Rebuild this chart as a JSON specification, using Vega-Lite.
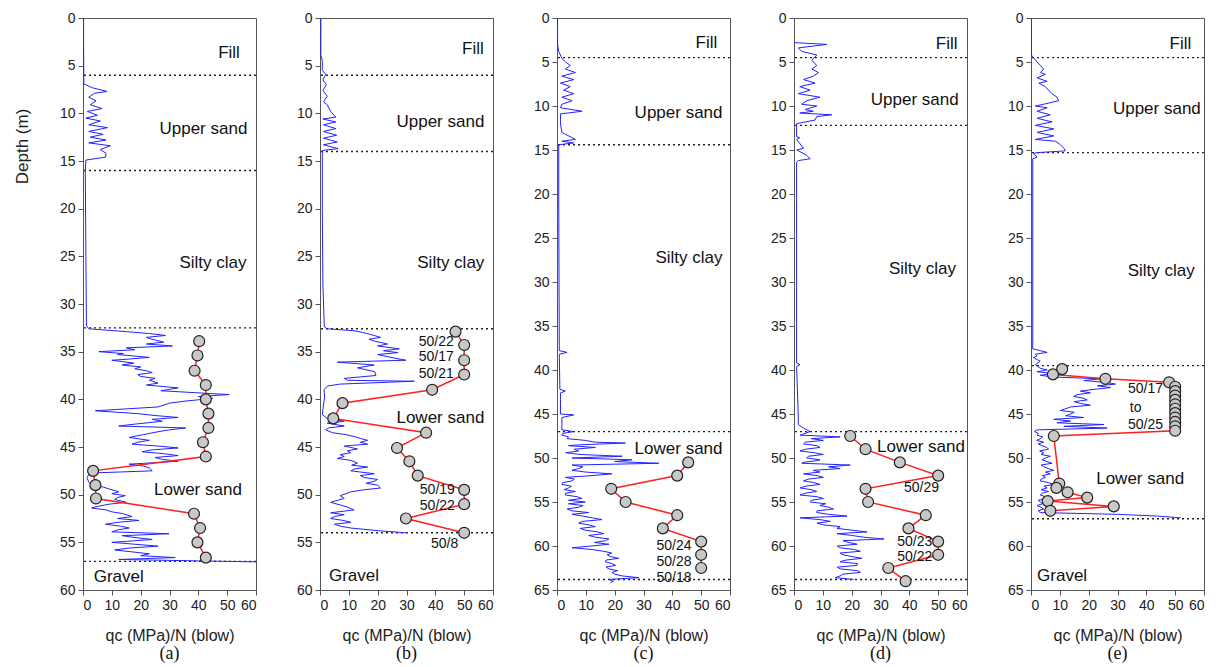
{
"$schema": "https://vega.github.io/schema/vega-lite/v6.json",
"padding": {"left": 12, "top": 10, "right": 5, "bottom": 2},
"background": "white",
"bounds": "flush",
"spacing": 64,
"config": {
  "font": "Liberation Sans",
  "view": {"stroke": "#555", "strokeWidth": 1},
  "axis": {"grid": false, "domainColor": "#555", "tickColor": "#555", "labelColor": "#222", "titleColor": "#222", "labelFontSize": 14, "titleFontSize": 16, "titleFontWeight": "normal", "tickSize": 5, "labelPadding": 3},
  "axisX": {"tickCount": 7, "titlePadding": 15},
  "axisY": {"tickCount": 13}
},
"datasets": {
"bounds": [
 {"panel":"a","depth":6},{"panel":"a","depth":16},{"panel":"a","depth":32.5},{"panel":"a","depth":57},
 {"panel":"b","depth":6},{"panel":"b","depth":14},{"panel":"b","depth":32.6},{"panel":"b","depth":54},
 {"panel":"c","depth":4.5},{"panel":"c","depth":14.4},{"panel":"c","depth":47},{"panel":"c","depth":63.8},
 {"panel":"d","depth":4.5},{"panel":"d","depth":12.2},{"panel":"d","depth":47},{"panel":"d","depth":63.8},
 {"panel":"e","depth":4.5},{"panel":"e","depth":15.3},{"panel":"e","depth":39.5},{"panel":"e","depth":56.9}
],
"labels": [
 {"panel":"a","kind":"layer","depth":3.7,"x":54.4,"text":"Fill"},
 {"panel":"a","kind":"layer","depth":11.6,"x":57,"text":"Upper sand"},
 {"panel":"a","kind":"layer","depth":25.7,"x":56.7,"text":"Silty clay"},
 {"panel":"a","kind":"layer","depth":49.5,"x":55.1,"text":"Lower sand"},
 {"panel":"a","kind":"base","depth":58.6,"x":3.7,"text":"Gravel"},
 {"panel":"b","kind":"layer","depth":3.2,"x":56.8,"text":"Fill"},
 {"panel":"b","kind":"layer","depth":10.9,"x":57,"text":"Upper sand"},
 {"panel":"b","kind":"layer","depth":25.7,"x":57,"text":"Silty clay"},
 {"panel":"b","kind":"layer","depth":42.0,"x":57,"text":"Lower sand"},
 {"panel":"b","kind":"base","depth":58.5,"x":3.1,"text":"Gravel"},
 {"panel":"b","kind":"blow","depth":34.0,"x":40.3,"text":"50/22"},
 {"panel":"b","kind":"blow","depth":35.6,"x":40.3,"text":"50/17"},
 {"panel":"b","kind":"blow","depth":37.3,"x":40.3,"text":"50/21"},
 {"panel":"b","kind":"blow","depth":49.5,"x":40.7,"text":"50/19"},
 {"panel":"b","kind":"blow","depth":51.2,"x":40.7,"text":"50/22"},
 {"panel":"b","kind":"blow","depth":55.2,"x":43.2,"text":"50/8"},
 {"panel":"c","kind":"layer","depth":2.8,"x":55.6,"text":"Fill"},
 {"panel":"c","kind":"layer","depth":10.8,"x":57.4,"text":"Upper sand"},
 {"panel":"c","kind":"layer","depth":27.3,"x":57.4,"text":"Silty clay"},
 {"panel":"c","kind":"layer","depth":49.0,"x":57.4,"text":"Lower sand"},
 {"panel":"c","kind":"blow","depth":60.0,"x":40.6,"text":"50/24"},
 {"panel":"c","kind":"blow","depth":61.8,"x":40.6,"text":"50/28"},
 {"panel":"c","kind":"blow","depth":63.6,"x":40.6,"text":"50/18"},
 {"panel":"d","kind":"layer","depth":2.9,"x":56.7,"text":"Fill"},
 {"panel":"d","kind":"layer","depth":9.3,"x":57.1,"text":"Upper sand"},
 {"panel":"d","kind":"layer","depth":28.5,"x":56.2,"text":"Silty clay"},
 {"panel":"d","kind":"layer","depth":48.7,"x":59.3,"text":"Lower sand"},
 {"panel":"d","kind":"blow","depth":53.4,"x":44.2,"text":"50/29"},
 {"panel":"d","kind":"blow","depth":59.5,"x":41.9,"text":"50/23"},
 {"panel":"d","kind":"blow","depth":61.3,"x":41.9,"text":"50/22"},
 {"panel":"e","kind":"layer","depth":3.0,"x":55.6,"text":"Fill"},
 {"panel":"e","kind":"layer","depth":10.3,"x":58.9,"text":"Upper sand"},
 {"panel":"e","kind":"layer","depth":28.8,"x":56.8,"text":"Silty clay"},
 {"panel":"e","kind":"layer","depth":52.4,"x":53.1,"text":"Lower sand"},
 {"panel":"e","kind":"base","depth":63.4,"x":2.1,"text":"Gravel"},
 {"panel":"e","kind":"blow","depth":42.2,"x":39.7,"text":"50/17"},
 {"panel":"e","kind":"blow","depth":44.3,"x":36.3,"text":"to"},
 {"panel":"e","kind":"blow","depth":46.2,"x":39.7,"text":"50/25"}
],
"spt": [
 {"panel":"a","depth":33.9,"n":40.3},{"panel":"a","depth":35.4,"n":39.7},{"panel":"a","depth":37.0,"n":38.7},{"panel":"a","depth":38.5,"n":42.6},{"panel":"a","depth":40.0,"n":42.6},{"panel":"a","depth":41.5,"n":43.5},{"panel":"a","depth":43.0,"n":43.5},{"panel":"a","depth":44.5,"n":41.6},{"panel":"a","depth":46.0,"n":42.6},{"panel":"a","depth":47.5,"n":3.5},{"panel":"a","depth":49.0,"n":4.3},{"panel":"a","depth":50.4,"n":4.5},{"panel":"a","depth":52.0,"n":38.5},{"panel":"a","depth":53.5,"n":40.6},{"panel":"a","depth":55.0,"n":39.7},{"panel":"a","depth":56.6,"n":42.6},
 {"panel":"b","depth":32.9,"n":47},{"panel":"b","depth":34.3,"n":50},{"panel":"b","depth":35.9,"n":50},{"panel":"b","depth":37.4,"n":50},{"panel":"b","depth":39.0,"n":38.9},{"panel":"b","depth":40.4,"n":7.8},{"panel":"b","depth":42.0,"n":4.6},{"panel":"b","depth":43.5,"n":36.8},{"panel":"b","depth":45.1,"n":26.7},{"panel":"b","depth":46.5,"n":31},{"panel":"b","depth":48.0,"n":33.9},{"panel":"b","depth":49.5,"n":50},{"panel":"b","depth":51.0,"n":50},{"panel":"b","depth":52.5,"n":29.8},{"panel":"b","depth":54.0,"n":50},
 {"panel":"c","depth":50.5,"n":45.5},{"panel":"c","depth":52.0,"n":41.7},{"panel":"c","depth":53.5,"n":18.8},{"panel":"c","depth":55.0,"n":23.8},{"panel":"c","depth":56.5,"n":41.7},{"panel":"c","depth":58.0,"n":36.7},{"panel":"c","depth":59.5,"n":50},{"panel":"c","depth":61.0,"n":50},{"panel":"c","depth":62.5,"n":50},
 {"panel":"d","depth":47.5,"n":19.5},{"panel":"d","depth":49.0,"n":24.8},{"panel":"d","depth":50.5,"n":36.7},{"panel":"d","depth":52.0,"n":50},{"panel":"d","depth":53.5,"n":24.8},{"panel":"d","depth":55.0,"n":25.7},{"panel":"d","depth":56.5,"n":45.7},{"panel":"d","depth":58.0,"n":39.7},{"panel":"d","depth":59.5,"n":50},{"panel":"d","depth":61.0,"n":50},{"panel":"d","depth":62.5,"n":32.7},{"panel":"d","depth":64.0,"n":38.7},
 {"panel":"e","depth":39.9,"n":10.8},{"panel":"e","depth":40.5,"n":7.6},{"panel":"e","depth":41.0,"n":25.8},{"panel":"e","depth":41.4,"n":47.9},{"panel":"e","depth":41.9,"n":50},{"panel":"e","depth":42.4,"n":50},{"panel":"e","depth":42.9,"n":50},{"panel":"e","depth":43.4,"n":50},{"panel":"e","depth":43.9,"n":50},{"panel":"e","depth":44.4,"n":50},{"panel":"e","depth":44.9,"n":50},{"panel":"e","depth":45.4,"n":50},{"panel":"e","depth":45.9,"n":50},{"panel":"e","depth":46.4,"n":50},{"panel":"e","depth":46.9,"n":50},{"panel":"e","depth":47.5,"n":7.9},{"panel":"e","depth":52.9,"n":9.8},{"panel":"e","depth":53.4,"n":8.8},{"panel":"e","depth":53.9,"n":12.7},{"panel":"e","depth":54.5,"n":19.5},{"panel":"e","depth":54.9,"n":5.8},{"panel":"e","depth":55.5,"n":28.7},{"panel":"e","depth":56.0,"n":6.7}
],
"cpt": [
 {"panel":"a","depth":0,"qc":0.2},{"panel":"a","depth":2.8,"qc":0.2},{"panel":"a","depth":6.9,"qc":0.3},{"panel":"a","depth":7.0,"qc":1.0},{"panel":"a","depth":7.3,"qc":3.0},{"panel":"a","depth":7.7,"qc":8.3},{"panel":"a","depth":7.9,"qc":4.0},{"panel":"a","depth":8.3,"qc":2.0},{"panel":"a","depth":8.7,"qc":4.5},{"panel":"a","depth":9.1,"qc":2.5},{"panel":"a","depth":9.5,"qc":6.6},{"panel":"a","depth":9.8,"qc":1.5},{"panel":"a","depth":10.2,"qc":5.0},{"panel":"a","depth":10.5,"qc":1.0},{"panel":"a","depth":10.8,"qc":6.0},{"panel":"a","depth":11.2,"qc":2.0},{"panel":"a","depth":11.5,"qc":8.5},{"panel":"a","depth":11.9,"qc":2.0},{"panel":"a","depth":12.2,"qc":7.0},{"panel":"a","depth":12.5,"qc":2.5},{"panel":"a","depth":12.8,"qc":8.0},{"panel":"a","depth":13.1,"qc":2.0},{"panel":"a","depth":13.4,"qc":9.5},{"panel":"a","depth":13.8,"qc":6.0},{"panel":"a","depth":14.2,"qc":8.0},{"panel":"a","depth":14.6,"qc":7.8},{"panel":"a","depth":14.9,"qc":1.0},{"panel":"a","depth":16.0,"qc":0.8},{"panel":"a","depth":25.0,"qc":1.0},{"panel":"a","depth":32.3,"qc":1.2},{"panel":"a","depth":32.6,"qc":2.0},{"panel":"a","depth":32.9,"qc":15},{"panel":"a","depth":33.1,"qc":23},{"panel":"a","depth":33.3,"qc":28.6},{"panel":"a","depth":33.5,"qc":22},{"panel":"a","depth":33.7,"qc":24},{"panel":"a","depth":34.0,"qc":28},{"panel":"a","depth":34.2,"qc":22},{"panel":"a","depth":34.4,"qc":31},{"panel":"a","depth":34.6,"qc":15},{"panel":"a","depth":34.8,"qc":18},{"panel":"a","depth":35.0,"qc":5.5},{"panel":"a","depth":35.2,"qc":14},{"panel":"a","depth":35.3,"qc":12},{"panel":"a","depth":35.6,"qc":23},{"panel":"a","depth":35.8,"qc":15},{"panel":"a","depth":35.9,"qc":10},{"panel":"a","depth":36.2,"qc":17.6},{"panel":"a","depth":36.4,"qc":13.6},{"panel":"a","depth":36.6,"qc":20},{"panel":"a","depth":36.8,"qc":18},{"panel":"a","depth":37.0,"qc":22},{"panel":"a","depth":37.2,"qc":24},{"panel":"a","depth":37.4,"qc":19},{"panel":"a","depth":37.6,"qc":20},{"panel":"a","depth":37.8,"qc":25},{"panel":"a","depth":38.0,"qc":23},{"panel":"a","depth":38.3,"qc":26},{"panel":"a","depth":38.5,"qc":22},{"panel":"a","depth":38.8,"qc":33},{"panel":"a","depth":39.1,"qc":27},{"panel":"a","depth":39.5,"qc":50.7},{"panel":"a","depth":39.7,"qc":40},{"panel":"a","depth":39.9,"qc":45},{"panel":"a","depth":40.2,"qc":35},{"panel":"a","depth":40.4,"qc":30},{"panel":"a","depth":40.8,"qc":26},{"panel":"a","depth":41.2,"qc":4.3},{"panel":"a","depth":41.5,"qc":19},{"panel":"a","depth":41.7,"qc":25},{"panel":"a","depth":41.9,"qc":33},{"panel":"a","depth":42.1,"qc":24},{"panel":"a","depth":42.3,"qc":27.5},{"panel":"a","depth":42.6,"qc":18},{"panel":"a","depth":42.8,"qc":12.4},{"panel":"a","depth":43.0,"qc":35.6},{"panel":"a","depth":43.2,"qc":30},{"panel":"a","depth":43.4,"qc":26},{"panel":"a","depth":43.7,"qc":21},{"panel":"a","depth":44.0,"qc":16},{"panel":"a","depth":44.3,"qc":23},{"panel":"a","depth":44.5,"qc":19},{"panel":"a","depth":44.7,"qc":17},{"panel":"a","depth":44.9,"qc":26},{"panel":"a","depth":45.1,"qc":33},{"panel":"a","depth":45.3,"qc":24},{"panel":"a","depth":45.5,"qc":20.5},{"panel":"a","depth":45.7,"qc":28},{"panel":"a","depth":45.9,"qc":33},{"panel":"a","depth":46.1,"qc":25},{"panel":"a","depth":46.3,"qc":27.5},{"panel":"a","depth":46.5,"qc":33},{"panel":"a","depth":46.8,"qc":16},{"panel":"a","depth":47.0,"qc":21},{"panel":"a","depth":47.2,"qc":23},{"panel":"a","depth":47.5,"qc":24},{"panel":"a","depth":47.7,"qc":5.5},{"panel":"a","depth":47.9,"qc":2},{"panel":"a","depth":48.2,"qc":1.4},{"panel":"a","depth":48.7,"qc":2},{"panel":"a","depth":49.0,"qc":3},{"panel":"a","depth":49.2,"qc":7},{"panel":"a","depth":49.4,"qc":9},{"panel":"a","depth":49.7,"qc":12.4},{"panel":"a","depth":49.9,"qc":10},{"panel":"a","depth":50.1,"qc":14.7},{"panel":"a","depth":50.3,"qc":12},{"panel":"a","depth":50.5,"qc":11},{"panel":"a","depth":50.8,"qc":15},{"panel":"a","depth":51.0,"qc":9},{"panel":"a","depth":51.2,"qc":5.5},{"panel":"a","depth":51.4,"qc":3},{"panel":"a","depth":51.6,"qc":8},{"panel":"a","depth":51.8,"qc":10},{"panel":"a","depth":52.0,"qc":14},{"panel":"a","depth":52.3,"qc":17},{"panel":"a","depth":52.5,"qc":12},{"panel":"a","depth":52.7,"qc":19.4},{"panel":"a","depth":52.9,"qc":12},{"panel":"a","depth":53.1,"qc":7.8},{"panel":"a","depth":53.3,"qc":13},{"panel":"a","depth":53.5,"qc":16},{"panel":"a","depth":53.7,"qc":12},{"panel":"a","depth":53.9,"qc":10},{"panel":"a","depth":54.1,"qc":29.8},{"panel":"a","depth":54.3,"qc":13.6},{"panel":"a","depth":54.5,"qc":18},{"panel":"a","depth":54.7,"qc":24},{"panel":"a","depth":54.9,"qc":15},{"panel":"a","depth":55.0,"qc":10},{"panel":"a","depth":55.2,"qc":18},{"panel":"a","depth":55.4,"qc":26},{"panel":"a","depth":55.6,"qc":16},{"panel":"a","depth":55.8,"qc":11},{"panel":"a","depth":56.0,"qc":17},{"panel":"a","depth":56.2,"qc":23},{"panel":"a","depth":56.4,"qc":20},{"panel":"a","depth":56.6,"qc":32},{"panel":"a","depth":56.8,"qc":12.4},{"panel":"a","depth":57.05,"qc":60},
 {"panel":"b","depth":0,"qc":0.3},{"panel":"b","depth":3.9,"qc":0.3},{"panel":"b","depth":4.5,"qc":0.8},{"panel":"b","depth":5.5,"qc":0.8},{"panel":"b","depth":5.9,"qc":2.0},{"panel":"b","depth":6.5,"qc":1.0},{"panel":"b","depth":7.0,"qc":2.2},{"panel":"b","depth":7.6,"qc":1.0},{"panel":"b","depth":8.2,"qc":2.5},{"panel":"b","depth":8.8,"qc":1.2},{"panel":"b","depth":9.1,"qc":2.5},{"panel":"b","depth":9.8,"qc":3.7},{"panel":"b","depth":10.4,"qc":5.5},{"panel":"b","depth":10.6,"qc":1.0},{"panel":"b","depth":10.9,"qc":5.5},{"panel":"b","depth":11.2,"qc":1.2},{"panel":"b","depth":11.6,"qc":5.5},{"panel":"b","depth":11.9,"qc":1.2},{"panel":"b","depth":12.3,"qc":5.8},{"panel":"b","depth":12.6,"qc":1.2},{"panel":"b","depth":13.0,"qc":6.0},{"panel":"b","depth":13.3,"qc":1.2},{"panel":"b","depth":13.7,"qc":6.3},{"panel":"b","depth":13.9,"qc":0.8},{"panel":"b","depth":20,"qc":0.8},{"panel":"b","depth":28,"qc":1.0},{"panel":"b","depth":32.4,"qc":1.5},{"panel":"b","depth":32.6,"qc":2.5},{"panel":"b","depth":32.8,"qc":11.8},{"panel":"b","depth":33.0,"qc":15},{"panel":"b","depth":33.2,"qc":17.6},{"panel":"b","depth":33.5,"qc":21},{"panel":"b","depth":33.7,"qc":17},{"panel":"b","depth":33.9,"qc":19},{"panel":"b","depth":34.2,"qc":23.4},{"panel":"b","depth":34.4,"qc":20},{"panel":"b","depth":34.7,"qc":27.5},{"panel":"b","depth":34.9,"qc":22},{"panel":"b","depth":35.1,"qc":27},{"panel":"b","depth":35.3,"qc":20},{"panel":"b","depth":35.6,"qc":24.6},{"panel":"b","depth":35.9,"qc":29.8},{"panel":"b","depth":36.1,"qc":6},{"panel":"b","depth":36.4,"qc":18.8},{"panel":"b","depth":36.7,"qc":13},{"panel":"b","depth":37.1,"qc":19},{"panel":"b","depth":37.5,"qc":19.4},{"panel":"b","depth":37.8,"qc":8.4},{"panel":"b","depth":38.0,"qc":9.5},{"panel":"b","depth":38.1,"qc":32.7},{"panel":"b","depth":38.4,"qc":7},{"panel":"b","depth":38.6,"qc":2.6},{"panel":"b","depth":39.0,"qc":1.4},{"panel":"b","depth":39.8,"qc":1.6},{"panel":"b","depth":40.6,"qc":1.2},{"panel":"b","depth":41.6,"qc":0.8},{"panel":"b","depth":42.0,"qc":2.5},{"panel":"b","depth":42.3,"qc":8.4},{"panel":"b","depth":42.5,"qc":2.5},{"panel":"b","depth":42.8,"qc":8.4},{"panel":"b","depth":43.0,"qc":3},{"panel":"b","depth":43.2,"qc":2},{"panel":"b","depth":43.5,"qc":4.3},{"panel":"b","depth":43.7,"qc":9},{"panel":"b","depth":43.9,"qc":11.8},{"panel":"b","depth":44.1,"qc":14},{"panel":"b","depth":44.3,"qc":16.5},{"panel":"b","depth":44.5,"qc":14},{"panel":"b","depth":44.7,"qc":16.5},{"panel":"b","depth":44.9,"qc":8.4},{"panel":"b","depth":45.2,"qc":13},{"panel":"b","depth":45.4,"qc":9.5},{"panel":"b","depth":45.6,"qc":10.7},{"panel":"b","depth":45.8,"qc":7},{"panel":"b","depth":46.0,"qc":8.4},{"panel":"b","depth":46.2,"qc":6},{"panel":"b","depth":46.4,"qc":10.7},{"panel":"b","depth":46.7,"qc":13},{"panel":"b","depth":46.9,"qc":11},{"panel":"b","depth":47.1,"qc":16.5},{"panel":"b","depth":47.3,"qc":12},{"panel":"b","depth":47.5,"qc":10.7},{"panel":"b","depth":47.8,"qc":18.8},{"panel":"b","depth":48.0,"qc":14},{"panel":"b","depth":48.2,"qc":15.3},{"panel":"b","depth":48.4,"qc":20},{"panel":"b","depth":48.6,"qc":18.8},{"panel":"b","depth":48.8,"qc":16},{"panel":"b","depth":49.0,"qc":20},{"panel":"b","depth":49.3,"qc":21},{"panel":"b","depth":49.5,"qc":15},{"panel":"b","depth":49.7,"qc":10.7},{"panel":"b","depth":49.9,"qc":9},{"panel":"b","depth":50.1,"qc":7},{"panel":"b","depth":50.4,"qc":8.4},{"panel":"b","depth":50.6,"qc":6},{"panel":"b","depth":50.8,"qc":3.7},{"panel":"b","depth":51.1,"qc":7.2},{"panel":"b","depth":51.3,"qc":9.5},{"panel":"b","depth":51.6,"qc":11.8},{"panel":"b","depth":51.9,"qc":3.7},{"panel":"b","depth":52.1,"qc":8.4},{"panel":"b","depth":52.3,"qc":5},{"panel":"b","depth":52.5,"qc":3.7},{"panel":"b","depth":52.7,"qc":8},{"panel":"b","depth":52.9,"qc":10.7},{"panel":"b","depth":53.1,"qc":5},{"panel":"b","depth":53.3,"qc":7},{"panel":"b","depth":53.5,"qc":10.7},{"panel":"b","depth":53.8,"qc":21},{"panel":"b","depth":54.0,"qc":29.8},
 {"panel":"c","depth":0,"qc":0.2},{"panel":"c","depth":3.0,"qc":0.2},{"panel":"c","depth":3.8,"qc":0.6},{"panel":"c","depth":4.6,"qc":1.7},{"panel":"c","depth":5.0,"qc":3},{"panel":"c","depth":5.4,"qc":4.6},{"panel":"c","depth":5.8,"qc":2.9},{"panel":"c","depth":6.2,"qc":6.4},{"panel":"c","depth":6.6,"qc":1.7},{"panel":"c","depth":7.0,"qc":5.8},{"panel":"c","depth":7.4,"qc":1.2},{"panel":"c","depth":7.8,"qc":4.6},{"panel":"c","depth":8.2,"qc":2.3},{"panel":"c","depth":8.6,"qc":5.8},{"panel":"c","depth":9.0,"qc":1.7},{"panel":"c","depth":9.4,"qc":5.2},{"panel":"c","depth":9.8,"qc":1.7},{"panel":"c","depth":10.2,"qc":1.2},{"panel":"c","depth":10.6,"qc":8.7},{"panel":"c","depth":10.9,"qc":1.2},{"panel":"c","depth":12.0,"qc":1.2},{"panel":"c","depth":13.0,"qc":1.7},{"panel":"c","depth":13.8,"qc":6.4},{"panel":"c","depth":14.0,"qc":1.7},{"panel":"c","depth":14.2,"qc":5.8},{"panel":"c","depth":14.4,"qc":0.6},{"panel":"c","depth":20,"qc":0.6},{"panel":"c","depth":30,"qc":0.7},{"panel":"c","depth":37.8,"qc":0.8},{"panel":"c","depth":38.0,"qc":3.5},{"panel":"c","depth":38.2,"qc":0.8},{"panel":"c","depth":42.2,"qc":1.0},{"panel":"c","depth":42.4,"qc":2.9},{"panel":"c","depth":42.6,"qc":1.2},{"panel":"c","depth":45.0,"qc":1.2},{"panel":"c","depth":45.1,"qc":5.8},{"panel":"c","depth":45.4,"qc":1.7},{"panel":"c","depth":46.8,"qc":1.7},{"panel":"c","depth":47.0,"qc":5.8},{"panel":"c","depth":47.2,"qc":2},{"panel":"c","depth":47.4,"qc":1.7},{"panel":"c","depth":47.6,"qc":4},{"panel":"c","depth":47.8,"qc":3.5},{"panel":"c","depth":48.0,"qc":9.8},{"panel":"c","depth":48.2,"qc":13.3},{"panel":"c","depth":48.3,"qc":23.7},{"panel":"c","depth":48.5,"qc":8},{"panel":"c","depth":48.6,"qc":4.0},{"panel":"c","depth":48.8,"qc":13.3},{"panel":"c","depth":49.0,"qc":6},{"panel":"c","depth":49.2,"qc":7.5},{"panel":"c","depth":49.4,"qc":3},{"panel":"c","depth":49.6,"qc":8},{"panel":"c","depth":49.8,"qc":22.6},{"panel":"c","depth":50.0,"qc":5.2},{"panel":"c","depth":50.2,"qc":26},{"panel":"c","depth":50.4,"qc":20},{"panel":"c","depth":50.6,"qc":35.3},{"panel":"c","depth":50.8,"qc":5.2},{"panel":"c","depth":51.0,"qc":9},{"panel":"c","depth":51.2,"qc":7.5},{"panel":"c","depth":51.4,"qc":5.2},{"panel":"c","depth":51.6,"qc":10},{"panel":"c","depth":51.8,"qc":19},{"panel":"c","depth":52.0,"qc":12.2},{"panel":"c","depth":52.2,"qc":2.9},{"panel":"c","depth":52.4,"qc":6},{"panel":"c","depth":52.6,"qc":5.2},{"panel":"c","depth":52.8,"qc":2},{"panel":"c","depth":53.0,"qc":1.7},{"panel":"c","depth":53.2,"qc":5},{"panel":"c","depth":53.4,"qc":4.0},{"panel":"c","depth":53.6,"qc":2.5},{"panel":"c","depth":53.8,"qc":6.4},{"panel":"c","depth":54.0,"qc":3},{"panel":"c","depth":54.2,"qc":2.9},{"panel":"c","depth":54.4,"qc":7},{"panel":"c","depth":54.6,"qc":8.7},{"panel":"c","depth":54.8,"qc":4},{"panel":"c","depth":55.0,"qc":9.8},{"panel":"c","depth":55.2,"qc":4.0},{"panel":"c","depth":55.4,"qc":9},{"panel":"c","depth":55.6,"qc":7.5},{"panel":"c","depth":55.8,"qc":3.5},{"panel":"c","depth":56.0,"qc":5.2},{"panel":"c","depth":56.2,"qc":11},{"panel":"c","depth":56.4,"qc":5.2},{"panel":"c","depth":56.6,"qc":9},{"panel":"c","depth":56.8,"qc":12.2},{"panel":"c","depth":57.0,"qc":15.6},{"panel":"c","depth":57.2,"qc":9},{"panel":"c","depth":57.4,"qc":7.5},{"panel":"c","depth":57.6,"qc":11},{"panel":"c","depth":57.8,"qc":13.3},{"panel":"c","depth":58.0,"qc":8},{"panel":"c","depth":58.2,"qc":9.8},{"panel":"c","depth":58.4,"qc":14},{"panel":"c","depth":58.6,"qc":16.2},{"panel":"c","depth":58.8,"qc":11},{"panel":"c","depth":59.0,"qc":13.3},{"panel":"c","depth":59.2,"qc":18},{"panel":"c","depth":59.4,"qc":16.8},{"panel":"c","depth":59.6,"qc":13},{"panel":"c","depth":59.8,"qc":18},{"panel":"c","depth":60.0,"qc":12},{"panel":"c","depth":60.2,"qc":5.2},{"panel":"c","depth":60.4,"qc":12.2},{"panel":"c","depth":60.6,"qc":16.2},{"panel":"c","depth":60.8,"qc":19},{"panel":"c","depth":61.0,"qc":17.4},{"panel":"c","depth":61.2,"qc":18.5},{"panel":"c","depth":61.4,"qc":21.4},{"panel":"c","depth":61.6,"qc":17},{"panel":"c","depth":61.8,"qc":16.8},{"panel":"c","depth":62.0,"qc":19},{"panel":"c","depth":62.2,"qc":20.3},{"panel":"c","depth":62.4,"qc":17},{"panel":"c","depth":62.6,"qc":18},{"panel":"c","depth":62.8,"qc":21},{"panel":"c","depth":63.0,"qc":19.1},{"panel":"c","depth":63.2,"qc":20},{"panel":"c","depth":63.4,"qc":22.6},{"panel":"c","depth":63.6,"qc":28.4},{"panel":"c","depth":63.8,"qc":18},{"panel":"c","depth":64.0,"qc":19.5},{"panel":"c","depth":64.2,"qc":18.5},
 {"panel":"d","depth":2.8,"qc":0.3},{"panel":"d","depth":3.0,"qc":11.4},{"panel":"d","depth":3.4,"qc":1.5},{"panel":"d","depth":3.8,"qc":2.7},{"panel":"d","depth":4.2,"qc":7.9},{"panel":"d","depth":4.8,"qc":6.2},{"panel":"d","depth":5.4,"qc":7.9},{"panel":"d","depth":5.8,"qc":6.2},{"panel":"d","depth":6.2,"qc":8.5},{"panel":"d","depth":6.6,"qc":6.7},{"panel":"d","depth":7.0,"qc":3.3},{"panel":"d","depth":7.4,"qc":7.3},{"panel":"d","depth":7.8,"qc":2.0},{"panel":"d","depth":8.2,"qc":5.6},{"panel":"d","depth":8.6,"qc":1.5},{"panel":"d","depth":9.0,"qc":9.0},{"panel":"d","depth":9.4,"qc":4.4},{"panel":"d","depth":9.8,"qc":2.7},{"panel":"d","depth":10.0,"qc":7.9},{"panel":"d","depth":10.4,"qc":3.9},{"panel":"d","depth":10.6,"qc":6.7},{"panel":"d","depth":10.8,"qc":2.0},{"panel":"d","depth":11.0,"qc":13.1},{"panel":"d","depth":11.2,"qc":7.9},{"panel":"d","depth":11.6,"qc":7.3},{"panel":"d","depth":12.0,"qc":0.9},{"panel":"d","depth":13.5,"qc":0.9},{"panel":"d","depth":13.6,"qc":2.0},{"panel":"d","depth":13.8,"qc":0.9},{"panel":"d","depth":14.8,"qc":3.3},{"panel":"d","depth":15.0,"qc":1.0},{"panel":"d","depth":15.6,"qc":4.4},{"panel":"d","depth":16.0,"qc":5.6},{"panel":"d","depth":16.2,"qc":1.5},{"panel":"d","depth":16.4,"qc":0.9},{"panel":"d","depth":25,"qc":0.9},{"panel":"d","depth":39.2,"qc":0.9},{"panel":"d","depth":39.4,"qc":2.1},{"panel":"d","depth":39.6,"qc":0.9},{"panel":"d","depth":45.4,"qc":1.5},{"panel":"d","depth":46.2,"qc":1.5},{"panel":"d","depth":46.6,"qc":3.3},{"panel":"d","depth":47.0,"qc":5.6},{"panel":"d","depth":47.4,"qc":2.1},{"panel":"d","depth":47.6,"qc":16},{"panel":"d","depth":47.8,"qc":6},{"panel":"d","depth":48.0,"qc":10.2},{"panel":"d","depth":48.2,"qc":4},{"panel":"d","depth":48.4,"qc":3.3},{"panel":"d","depth":48.6,"qc":8},{"panel":"d","depth":48.8,"qc":9},{"panel":"d","depth":49.0,"qc":4},{"panel":"d","depth":49.2,"qc":2.1},{"panel":"d","depth":49.4,"qc":7},{"panel":"d","depth":49.6,"qc":10.2},{"panel":"d","depth":49.8,"qc":5},{"panel":"d","depth":50.0,"qc":4.4},{"panel":"d","depth":50.2,"qc":9},{"panel":"d","depth":50.3,"qc":7.9},{"panel":"d","depth":50.5,"qc":3},{"panel":"d","depth":50.6,"qc":2.7},{"panel":"d","depth":50.8,"qc":19.5},{"panel":"d","depth":51.0,"qc":12},{"panel":"d","depth":51.2,"qc":16},{"panel":"d","depth":51.4,"qc":6.7},{"panel":"d","depth":51.6,"qc":9},{"panel":"d","depth":51.8,"qc":3.3},{"panel":"d","depth":52.0,"qc":8},{"panel":"d","depth":52.2,"qc":10.2},{"panel":"d","depth":52.4,"qc":5},{"panel":"d","depth":52.6,"qc":3.3},{"panel":"d","depth":52.8,"qc":7},{"panel":"d","depth":53.0,"qc":9},{"panel":"d","depth":53.2,"qc":4},{"panel":"d","depth":53.4,"qc":2.1},{"panel":"d","depth":53.6,"qc":6},{"panel":"d","depth":53.8,"qc":7.9},{"panel":"d","depth":54.0,"qc":4},{"panel":"d","depth":54.2,"qc":2.1},{"panel":"d","depth":54.4,"qc":8},{"panel":"d","depth":54.6,"qc":10.2},{"panel":"d","depth":54.8,"qc":6},{"panel":"d","depth":55.0,"qc":5.6},{"panel":"d","depth":55.2,"qc":11},{"panel":"d","depth":55.4,"qc":9},{"panel":"d","depth":55.6,"qc":12},{"panel":"d","depth":55.8,"qc":13.7},{"panel":"d","depth":56.0,"qc":8},{"panel":"d","depth":56.2,"qc":7.9},{"panel":"d","depth":56.4,"qc":12},{"panel":"d","depth":56.6,"qc":18.4},{"panel":"d","depth":56.8,"qc":2.1},{"panel":"d","depth":57.0,"qc":9},{"panel":"d","depth":57.2,"qc":12.6},{"panel":"d","depth":57.4,"qc":8},{"panel":"d","depth":57.6,"qc":10.2},{"panel":"d","depth":57.8,"qc":16},{"panel":"d","depth":58.0,"qc":14.9},{"panel":"d","depth":58.2,"qc":20},{"panel":"d","depth":58.4,"qc":25.3},{"panel":"d","depth":58.6,"qc":14.9},{"panel":"d","depth":58.8,"qc":20},{"panel":"d","depth":59.0,"qc":24.2},{"panel":"d","depth":59.2,"qc":31.2},{"panel":"d","depth":59.4,"qc":17},{"panel":"d","depth":59.6,"qc":19},{"panel":"d","depth":59.8,"qc":21.9},{"panel":"d","depth":60.0,"qc":15},{"panel":"d","depth":60.2,"qc":16},{"panel":"d","depth":60.4,"qc":21},{"panel":"d","depth":60.6,"qc":23},{"panel":"d","depth":60.8,"qc":16},{"panel":"d","depth":61.0,"qc":17},{"panel":"d","depth":61.2,"qc":20},{"panel":"d","depth":61.4,"qc":23.6},{"panel":"d","depth":61.6,"qc":18},{"panel":"d","depth":61.8,"qc":16},{"panel":"d","depth":62.0,"qc":22},{"panel":"d","depth":62.2,"qc":21.9},{"panel":"d","depth":62.4,"qc":15},{"panel":"d","depth":62.6,"qc":16},{"panel":"d","depth":62.8,"qc":22},{"panel":"d","depth":63.0,"qc":23},{"panel":"d","depth":63.2,"qc":17},{"panel":"d","depth":63.4,"qc":16},{"panel":"d","depth":63.6,"qc":14.3},{"panel":"d","depth":63.8,"qc":20.7},
 {"panel":"e","depth":0,"qc":0.1},{"panel":"e","depth":4.2,"qc":0.1},{"panel":"e","depth":4.4,"qc":0.6},{"panel":"e","depth":5.0,"qc":2.1},{"panel":"e","depth":5.8,"qc":4.4},{"panel":"e","depth":6.2,"qc":3.3},{"panel":"e","depth":6.4,"qc":5.0},{"panel":"e","depth":6.8,"qc":2.1},{"panel":"e","depth":7.2,"qc":5.6},{"panel":"e","depth":7.4,"qc":2.7},{"panel":"e","depth":7.8,"qc":5.0},{"panel":"e","depth":8.2,"qc":6.1},{"panel":"e","depth":8.6,"qc":7.3},{"panel":"e","depth":9.0,"qc":9.0},{"panel":"e","depth":9.4,"qc":9.6},{"panel":"e","depth":9.8,"qc":4.4},{"panel":"e","depth":10.0,"qc":1.5},{"panel":"e","depth":10.2,"qc":5.6},{"panel":"e","depth":10.6,"qc":2.1},{"panel":"e","depth":11.0,"qc":6.7},{"panel":"e","depth":11.4,"qc":2.1},{"panel":"e","depth":11.8,"qc":7.3},{"panel":"e","depth":12.2,"qc":1.5},{"panel":"e","depth":12.6,"qc":7.9},{"panel":"e","depth":13.0,"qc":2.1},{"panel":"e","depth":13.4,"qc":7.9},{"panel":"e","depth":13.8,"qc":1.5},{"panel":"e","depth":14.0,"qc":8.5},{"panel":"e","depth":14.4,"qc":10.2},{"panel":"e","depth":14.8,"qc":11.4},{"panel":"e","depth":15.1,"qc":11.9},{"panel":"e","depth":15.3,"qc":2.1},{"panel":"e","depth":15.4,"qc":0.9},{"panel":"e","depth":15.8,"qc":2.1},{"panel":"e","depth":16.0,"qc":0.6},{"panel":"e","depth":25,"qc":0.6},{"panel":"e","depth":37.6,"qc":0.6},{"panel":"e","depth":37.8,"qc":3.2},{"panel":"e","depth":38.0,"qc":5.6},{"panel":"e","depth":38.2,"qc":1.5},{"panel":"e","depth":38.4,"qc":2.1},{"panel":"e","depth":38.6,"qc":0.9},{"panel":"e","depth":39.0,"qc":3.2},{"panel":"e","depth":39.4,"qc":1.5},{"panel":"e","depth":39.8,"qc":3.2},{"panel":"e","depth":40.0,"qc":5.6},{"panel":"e","depth":40.2,"qc":2.1},{"panel":"e","depth":40.4,"qc":7.9},{"panel":"e","depth":40.6,"qc":3.2},{"panel":"e","depth":40.8,"qc":7.9},{"panel":"e","depth":41.0,"qc":24.1},{"panel":"e","depth":41.2,"qc":18.3},{"panel":"e","depth":41.4,"qc":26},{"panel":"e","depth":41.6,"qc":29.3},{"panel":"e","depth":41.8,"qc":23},{"panel":"e","depth":42.0,"qc":27.6},{"panel":"e","depth":42.2,"qc":21.8},{"panel":"e","depth":42.4,"qc":17.1},{"panel":"e","depth":42.6,"qc":20.6},{"panel":"e","depth":42.8,"qc":16},{"panel":"e","depth":43.0,"qc":14.8},{"panel":"e","depth":43.2,"qc":18},{"panel":"e","depth":43.4,"qc":19.5},{"panel":"e","depth":43.6,"qc":15},{"panel":"e","depth":43.8,"qc":17.1},{"panel":"e","depth":44.0,"qc":20.6},{"panel":"e","depth":44.2,"qc":13.7},{"panel":"e","depth":44.4,"qc":12},{"panel":"e","depth":44.6,"qc":10.2},{"panel":"e","depth":44.8,"qc":15},{"panel":"e","depth":45.0,"qc":13.7},{"panel":"e","depth":45.2,"qc":12},{"panel":"e","depth":45.4,"qc":18.3},{"panel":"e","depth":45.6,"qc":7.9},{"panel":"e","depth":45.8,"qc":13.7},{"panel":"e","depth":46.0,"qc":9},{"panel":"e","depth":46.2,"qc":25.3},{"panel":"e","depth":46.4,"qc":11.4},{"panel":"e","depth":46.6,"qc":26.4},{"panel":"e","depth":46.8,"qc":2.1},{"panel":"e","depth":47.0,"qc":1.2},{"panel":"e","depth":47.2,"qc":2.5},{"panel":"e","depth":47.4,"qc":2.1},{"panel":"e","depth":47.6,"qc":4},{"panel":"e","depth":47.8,"qc":3.2},{"panel":"e","depth":48.0,"qc":2},{"panel":"e","depth":48.2,"qc":4.4},{"panel":"e","depth":48.4,"qc":2.5},{"panel":"e","depth":48.6,"qc":3.8},{"panel":"e","depth":48.8,"qc":5.5},{"panel":"e","depth":49.0,"qc":6.1},{"panel":"e","depth":49.2,"qc":3},{"panel":"e","depth":49.4,"qc":4.4},{"panel":"e","depth":49.6,"qc":3.5},{"panel":"e","depth":49.8,"qc":6.7},{"panel":"e","depth":50.0,"qc":5},{"panel":"e","depth":50.2,"qc":3.8},{"panel":"e","depth":50.4,"qc":5.5},{"panel":"e","depth":50.6,"qc":7.3},{"panel":"e","depth":50.8,"qc":3.5},{"panel":"e","depth":51.0,"qc":4.4},{"panel":"e","depth":51.2,"qc":6},{"panel":"e","depth":51.4,"qc":7.9},{"panel":"e","depth":51.6,"qc":5},{"panel":"e","depth":51.8,"qc":6.7},{"panel":"e","depth":52.0,"qc":4},{"panel":"e","depth":52.2,"qc":5.0},{"panel":"e","depth":52.4,"qc":3.5},{"panel":"e","depth":52.6,"qc":3.2},{"panel":"e","depth":52.8,"qc":6},{"panel":"e","depth":53.0,"qc":7.9},{"panel":"e","depth":53.2,"qc":4.5},{"panel":"e","depth":53.4,"qc":5.6},{"panel":"e","depth":53.6,"qc":3.5},{"panel":"e","depth":53.8,"qc":6.1},{"panel":"e","depth":54.0,"qc":4},{"panel":"e","depth":54.2,"qc":3.2},{"panel":"e","depth":54.4,"qc":5},{"panel":"e","depth":54.6,"qc":5.6},{"panel":"e","depth":54.8,"qc":2.5},{"panel":"e","depth":55.0,"qc":3.2},{"panel":"e","depth":55.2,"qc":4},{"panel":"e","depth":55.4,"qc":2.1},{"panel":"e","depth":55.6,"qc":3.5},{"panel":"e","depth":55.8,"qc":4.4},{"panel":"e","depth":56.0,"qc":2.5},{"panel":"e","depth":56.2,"qc":3.2},{"panel":"e","depth":56.4,"qc":29.9},{"panel":"e","depth":56.6,"qc":43.8},{"panel":"e","depth":56.8,"qc":51.9}
]
},
"hconcat": [
{
 "width": 173, "height": 572,
 "title": {"text": "(a)", "orient": "bottom", "font": "Liberation Serif", "fontSize": 18, "fontWeight": "normal", "color": "#111", "offset": 2},
 "encoding": {"y": {"field": "depth", "type": "quantitative", "scale": {"domain": [0, 60], "reverse": true, "nice": false}, "title": "Depth (m)", "axis": {"titleX": -52, "titleY": 128, "titleFontSize": 17}}},
 "layer": [
  {"data": {"name": "bounds"}, "transform": [{"filter": "datum.panel === 'a'"}], "mark": {"type": "rule", "strokeDash": [2, 3], "color": "#222", "strokeWidth": 1.4}},
  {"data": {"name": "cpt"}, "transform": [{"filter": "datum.panel === 'a'"}], "mark": {"type": "line", "color": "#2222ff", "strokeWidth": 1, "clip": true}, "encoding": {"x": {"field": "qc", "type": "quantitative", "scale": {"domain": [0, 60], "nice": false}, "title": "qc (MPa)/N (blow)"}, "order": {"field": "depth", "type": "quantitative"}}},
  {"data": {"name": "spt"}, "transform": [{"filter": "datum.panel === 'a'"}], "mark": {"type": "line", "color": "#ff2020", "strokeWidth": 1.5}, "encoding": {"x": {"field": "n", "type": "quantitative", "scale": {"domain": [0, 60], "nice": false}, "title": "qc (MPa)/N (blow)"}, "order": {"field": "depth", "type": "quantitative"}}},
  {"data": {"name": "spt"}, "transform": [{"filter": "datum.panel === 'a'"}], "mark": {"type": "circle", "size": 120, "fill": "#c8c8c8", "stroke": "#222", "strokeWidth": 1.2, "opacity": 1}, "encoding": {"x": {"field": "n", "type": "quantitative", "scale": {"domain": [0, 60], "nice": false}, "title": "qc (MPa)/N (blow)"}}},
  {"data": {"name": "labels"}, "transform": [{"filter": "datum.panel === 'a' && datum.kind === 'layer'"}], "mark": {"type": "text", "align": "right", "fontSize": 17, "color": "#111"}, "encoding": {"x": {"field": "x", "type": "quantitative", "scale": {"domain": [0, 60], "nice": false}, "title": "qc (MPa)/N (blow)"}, "text": {"field": "text"}}},
  {"data": {"name": "labels"}, "transform": [{"filter": "datum.panel === 'a' && datum.kind === 'base'"}], "mark": {"type": "text", "align": "left", "fontSize": 17, "color": "#111"}, "encoding": {"x": {"field": "x", "type": "quantitative", "scale": {"domain": [0, 60], "nice": false}, "title": "qc (MPa)/N (blow)"}, "text": {"field": "text"}}}
 ]
},
{
 "width": 173, "height": 572,
 "title": {"text": "(b)", "orient": "bottom", "font": "Liberation Serif", "fontSize": 18, "fontWeight": "normal", "color": "#111", "offset": 2},
 "encoding": {"y": {"field": "depth", "type": "quantitative", "scale": {"domain": [0, 60], "reverse": true, "nice": false}, "title": null}},
 "layer": [
  {"data": {"name": "bounds"}, "transform": [{"filter": "datum.panel === 'b'"}], "mark": {"type": "rule", "strokeDash": [2, 3], "color": "#222", "strokeWidth": 1.4}},
  {"data": {"name": "cpt"}, "transform": [{"filter": "datum.panel === 'b'"}], "mark": {"type": "line", "color": "#2222ff", "strokeWidth": 1, "clip": true}, "encoding": {"x": {"field": "qc", "type": "quantitative", "scale": {"domain": [0, 60], "nice": false}, "title": "qc (MPa)/N (blow)"}, "order": {"field": "depth", "type": "quantitative"}}},
  {"data": {"name": "spt"}, "transform": [{"filter": "datum.panel === 'b'"}], "mark": {"type": "line", "color": "#ff2020", "strokeWidth": 1.5}, "encoding": {"x": {"field": "n", "type": "quantitative", "scale": {"domain": [0, 60], "nice": false}, "title": "qc (MPa)/N (blow)"}, "order": {"field": "depth", "type": "quantitative"}}},
  {"data": {"name": "spt"}, "transform": [{"filter": "datum.panel === 'b'"}], "mark": {"type": "circle", "size": 120, "fill": "#c8c8c8", "stroke": "#222", "strokeWidth": 1.2, "opacity": 1}, "encoding": {"x": {"field": "n", "type": "quantitative", "scale": {"domain": [0, 60], "nice": false}, "title": "qc (MPa)/N (blow)"}}},
  {"data": {"name": "labels"}, "transform": [{"filter": "datum.panel === 'b' && datum.kind === 'layer'"}], "mark": {"type": "text", "align": "right", "fontSize": 17, "color": "#111"}, "encoding": {"x": {"field": "x", "type": "quantitative", "scale": {"domain": [0, 60], "nice": false}, "title": "qc (MPa)/N (blow)"}, "text": {"field": "text"}}},
  {"data": {"name": "labels"}, "transform": [{"filter": "datum.panel === 'b' && datum.kind === 'base'"}], "mark": {"type": "text", "align": "left", "fontSize": 17, "color": "#111"}, "encoding": {"x": {"field": "x", "type": "quantitative", "scale": {"domain": [0, 60], "nice": false}, "title": "qc (MPa)/N (blow)"}, "text": {"field": "text"}}},
  {"data": {"name": "labels"}, "transform": [{"filter": "datum.panel === 'b' && datum.kind === 'blow'"}], "mark": {"type": "text", "align": "center", "fontSize": 14, "color": "#111"}, "encoding": {"x": {"field": "x", "type": "quantitative", "scale": {"domain": [0, 60], "nice": false}, "title": "qc (MPa)/N (blow)"}, "text": {"field": "text"}}}
 ]
},
{
 "width": 173, "height": 572,
 "title": {"text": "(c)", "orient": "bottom", "font": "Liberation Serif", "fontSize": 18, "fontWeight": "normal", "color": "#111", "offset": 2},
 "encoding": {"y": {"field": "depth", "type": "quantitative", "scale": {"domain": [0, 65], "reverse": true, "nice": false}, "title": null}},
 "layer": [
  {"data": {"name": "bounds"}, "transform": [{"filter": "datum.panel === 'c'"}], "mark": {"type": "rule", "strokeDash": [2, 3], "color": "#222", "strokeWidth": 1.4}},
  {"data": {"name": "cpt"}, "transform": [{"filter": "datum.panel === 'c'"}], "mark": {"type": "line", "color": "#2222ff", "strokeWidth": 1, "clip": true}, "encoding": {"x": {"field": "qc", "type": "quantitative", "scale": {"domain": [0, 60], "nice": false}, "title": "qc (MPa)/N (blow)"}, "order": {"field": "depth", "type": "quantitative"}}},
  {"data": {"name": "spt"}, "transform": [{"filter": "datum.panel === 'c'"}], "mark": {"type": "line", "color": "#ff2020", "strokeWidth": 1.5}, "encoding": {"x": {"field": "n", "type": "quantitative", "scale": {"domain": [0, 60], "nice": false}, "title": "qc (MPa)/N (blow)"}, "order": {"field": "depth", "type": "quantitative"}}},
  {"data": {"name": "spt"}, "transform": [{"filter": "datum.panel === 'c'"}], "mark": {"type": "circle", "size": 120, "fill": "#c8c8c8", "stroke": "#222", "strokeWidth": 1.2, "opacity": 1}, "encoding": {"x": {"field": "n", "type": "quantitative", "scale": {"domain": [0, 60], "nice": false}, "title": "qc (MPa)/N (blow)"}}},
  {"data": {"name": "labels"}, "transform": [{"filter": "datum.panel === 'c' && datum.kind === 'layer'"}], "mark": {"type": "text", "align": "right", "fontSize": 17, "color": "#111"}, "encoding": {"x": {"field": "x", "type": "quantitative", "scale": {"domain": [0, 60], "nice": false}, "title": "qc (MPa)/N (blow)"}, "text": {"field": "text"}}},
  {"data": {"name": "labels"}, "transform": [{"filter": "datum.panel === 'c' && datum.kind === 'blow'"}], "mark": {"type": "text", "align": "center", "fontSize": 14, "color": "#111"}, "encoding": {"x": {"field": "x", "type": "quantitative", "scale": {"domain": [0, 60], "nice": false}, "title": "qc (MPa)/N (blow)"}, "text": {"field": "text"}}}
 ]
},
{
 "width": 173, "height": 572,
 "title": {"text": "(d)", "orient": "bottom", "font": "Liberation Serif", "fontSize": 18, "fontWeight": "normal", "color": "#111", "offset": 2},
 "encoding": {"y": {"field": "depth", "type": "quantitative", "scale": {"domain": [0, 65], "reverse": true, "nice": false}, "title": null}},
 "layer": [
  {"data": {"name": "bounds"}, "transform": [{"filter": "datum.panel === 'd'"}], "mark": {"type": "rule", "strokeDash": [2, 3], "color": "#222", "strokeWidth": 1.4}},
  {"data": {"name": "cpt"}, "transform": [{"filter": "datum.panel === 'd'"}], "mark": {"type": "line", "color": "#2222ff", "strokeWidth": 1, "clip": true}, "encoding": {"x": {"field": "qc", "type": "quantitative", "scale": {"domain": [0, 60], "nice": false}, "title": "qc (MPa)/N (blow)"}, "order": {"field": "depth", "type": "quantitative"}}},
  {"data": {"name": "spt"}, "transform": [{"filter": "datum.panel === 'd'"}], "mark": {"type": "line", "color": "#ff2020", "strokeWidth": 1.5}, "encoding": {"x": {"field": "n", "type": "quantitative", "scale": {"domain": [0, 60], "nice": false}, "title": "qc (MPa)/N (blow)"}, "order": {"field": "depth", "type": "quantitative"}}},
  {"data": {"name": "spt"}, "transform": [{"filter": "datum.panel === 'd'"}], "mark": {"type": "circle", "size": 120, "fill": "#c8c8c8", "stroke": "#222", "strokeWidth": 1.2, "opacity": 1}, "encoding": {"x": {"field": "n", "type": "quantitative", "scale": {"domain": [0, 60], "nice": false}, "title": "qc (MPa)/N (blow)"}}},
  {"data": {"name": "labels"}, "transform": [{"filter": "datum.panel === 'd' && datum.kind === 'layer'"}], "mark": {"type": "text", "align": "right", "fontSize": 17, "color": "#111"}, "encoding": {"x": {"field": "x", "type": "quantitative", "scale": {"domain": [0, 60], "nice": false}, "title": "qc (MPa)/N (blow)"}, "text": {"field": "text"}}},
  {"data": {"name": "labels"}, "transform": [{"filter": "datum.panel === 'd' && datum.kind === 'blow'"}], "mark": {"type": "text", "align": "center", "fontSize": 14, "color": "#111"}, "encoding": {"x": {"field": "x", "type": "quantitative", "scale": {"domain": [0, 60], "nice": false}, "title": "qc (MPa)/N (blow)"}, "text": {"field": "text"}}}
 ]
},
{
 "width": 173, "height": 572,
 "title": {"text": "(e)", "orient": "bottom", "font": "Liberation Serif", "fontSize": 18, "fontWeight": "normal", "color": "#111", "offset": 2},
 "encoding": {"y": {"field": "depth", "type": "quantitative", "scale": {"domain": [0, 65], "reverse": true, "nice": false}, "title": null}},
 "layer": [
  {"data": {"name": "bounds"}, "transform": [{"filter": "datum.panel === 'e'"}], "mark": {"type": "rule", "strokeDash": [2, 3], "color": "#222", "strokeWidth": 1.4}},
  {"data": {"name": "cpt"}, "transform": [{"filter": "datum.panel === 'e'"}], "mark": {"type": "line", "color": "#2222ff", "strokeWidth": 1, "clip": true}, "encoding": {"x": {"field": "qc", "type": "quantitative", "scale": {"domain": [0, 60], "nice": false}, "title": "qc (MPa)/N (blow)"}, "order": {"field": "depth", "type": "quantitative"}}},
  {"data": {"name": "spt"}, "transform": [{"filter": "datum.panel === 'e'"}], "mark": {"type": "line", "color": "#ff2020", "strokeWidth": 1.5}, "encoding": {"x": {"field": "n", "type": "quantitative", "scale": {"domain": [0, 60], "nice": false}, "title": "qc (MPa)/N (blow)"}, "order": {"field": "depth", "type": "quantitative"}}},
  {"data": {"name": "spt"}, "transform": [{"filter": "datum.panel === 'e'"}], "mark": {"type": "circle", "size": 120, "fill": "#c8c8c8", "stroke": "#222", "strokeWidth": 1.2, "opacity": 1}, "encoding": {"x": {"field": "n", "type": "quantitative", "scale": {"domain": [0, 60], "nice": false}, "title": "qc (MPa)/N (blow)"}}},
  {"data": {"name": "labels"}, "transform": [{"filter": "datum.panel === 'e' && datum.kind === 'layer'"}], "mark": {"type": "text", "align": "right", "fontSize": 17, "color": "#111"}, "encoding": {"x": {"field": "x", "type": "quantitative", "scale": {"domain": [0, 60], "nice": false}, "title": "qc (MPa)/N (blow)"}, "text": {"field": "text"}}},
  {"data": {"name": "labels"}, "transform": [{"filter": "datum.panel === 'e' && datum.kind === 'base'"}], "mark": {"type": "text", "align": "left", "fontSize": 17, "color": "#111"}, "encoding": {"x": {"field": "x", "type": "quantitative", "scale": {"domain": [0, 60], "nice": false}, "title": "qc (MPa)/N (blow)"}, "text": {"field": "text"}}},
  {"data": {"name": "labels"}, "transform": [{"filter": "datum.panel === 'e' && datum.kind === 'blow'"}], "mark": {"type": "text", "align": "center", "fontSize": 14, "color": "#111"}, "encoding": {"x": {"field": "x", "type": "quantitative", "scale": {"domain": [0, 60], "nice": false}, "title": "qc (MPa)/N (blow)"}, "text": {"field": "text"}}}
 ]
}
]
}
